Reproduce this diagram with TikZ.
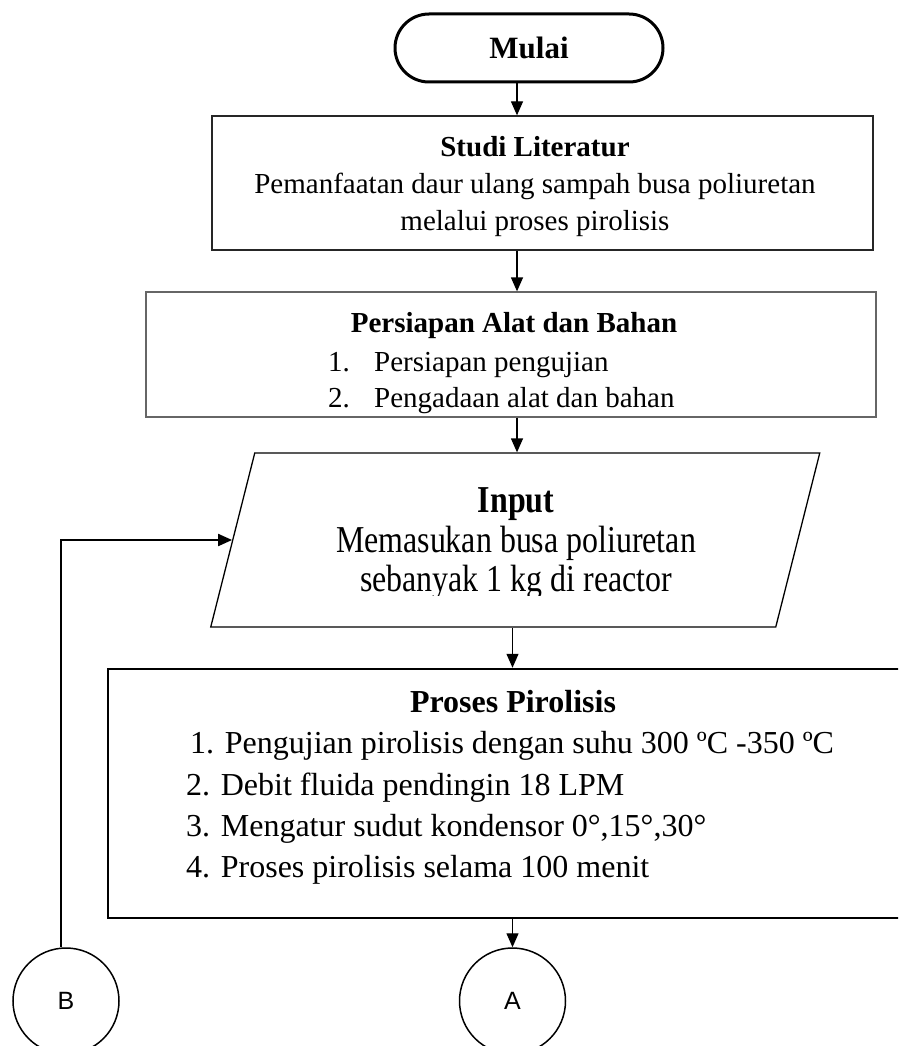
\documentclass[tikz,border=0pt]{standalone}
\usepackage{fontspec}
\setmainfont{Liberation Serif}
\setsansfont{Liberation Sans}
\newfontfamily\hurufTinggi[FakeStretch=0.84]{Liberation Serif}
\usetikzlibrary{shapes.misc,arrows.meta}

\begin{document}
\begin{tikzpicture}[x=1pt,y=-1pt,
	kotak/.style={draw,rectangle,inner sep=0pt,line width=1.3pt},
	teks/.style={inner sep=0pt,align=center,font=\fontsize{29pt}{37pt}\selectfont},
	daftar/.style={inner sep=0pt,align=left,anchor=west},
	panah/.style={-{Triangle[length=14pt,width=12pt]},line width=1.3pt},
	konektor/.style={draw,circle,minimum size=106pt,inner sep=0pt,line width=1.5pt,font=\sffamily\fontsize{25pt}{25pt}\selectfont}]
  %batas gambar
	\useasboundingbox (0,0) rectangle (898,1046);
	\clip (0,0) rectangle (898,1046);

  %mulai
	\node[draw,rounded rectangle,minimum width=268pt,minimum height=68pt,line width=3pt,inner sep=0pt,font=\bfseries\fontsize{31pt}{31pt}\selectfont] (mulai) at (529,48) {Mulai};

  %studi literatur
	\node[kotak,draw=black!85,minimum width=661pt,minimum height=134pt] (studi) at (542.5,183) {};
	\node[teks] (studiTeks) at (535,187) {\textbf{Studi Literatur}\\Pemanfaatan daur ulang sampah busa poliuretan\\melalui proses pirolisis};

  %persiapan alat dan bahan
	\node[kotak,draw=black!60,minimum width=730pt,minimum height=125pt] (siap) at (511,354.5) {};
	\node[teks,font=\bfseries\fontsize{29pt}{37pt}\selectfont] (siapJudul) at (514,326) {Persiapan Alat dan Bahan};
	\node[daftar,font=\fontsize{29pt}{36pt}\selectfont] (siapDaftar) at (328,383) {\makebox[46pt][l]{1.}Persiapan pengujian\\\makebox[46pt][l]{2.}Pengadaan alat dan bahan};

  %input (jajaran genjang)
	\begin{scope}[shift={(515.25,540)}]
	\node[kotak,transform shape,xslant=0.2529,minimum width=565pt,minimum height=174pt] (input) at (0,0) {};
	\end{scope}
	%teks terpotong di bawah seperti aslinya
	\begin{scope}
	\clip (0,0) rectangle (898,595);
	\node[teks,font=\hurufTinggi\fontsize{38pt}{39.5pt}\selectfont] (inputTeks) at (516,544) {\textbf{Input}\\Memasukan busa poliuretan\\sebanyak 1 kg di reactor};
	\end{scope}

  %proses pirolisis
	\node[kotak,line width=2.5pt,minimum width=842pt,minimum height=249pt] (proses) at (529,793.5) {};
	\node[teks,font=\bfseries\fontsize{32pt}{38pt}\selectfont] (prosesJudul) at (513,702) {Proses Pirolisis};
	\node[daftar,font=\fontsize{32pt}{41.3pt}\selectfont] (prosesDaftar) at (186,808) {\hspace*{4pt}1. Pengujian pirolisis dengan suhu 300 ºC -350 ºC\\2. Debit fluida pendingin 18 LPM\\3. Mengatur sudut kondensor 0°,15°,30°\\4. Proses pirolisis selama 100 menit};

  %konektor
	\node[konektor] (b) at (66,1001) {B};
	\node[konektor] (a) at (512.5,1001) {A};

  %panah
	\coordinate (sumbu) at (517,0);
	\draw[panah] (mulai.south -| sumbu) -- (studi.north -| sumbu);
	\draw[panah] (studi.south -| sumbu) -- (siap.north -| sumbu);
	\draw[panah] (siap.south -| sumbu) -- (input.north -| sumbu);
	\draw[panah] (input.south -| a.north) -- (proses.north -| a.north);
	\draw[panah] (proses.south -| a.north) -- (a.north);
	\draw[panah,line width=2pt] ([xshift=-5pt]b.north) |- (input.west);
\end{tikzpicture}
\end{document}
